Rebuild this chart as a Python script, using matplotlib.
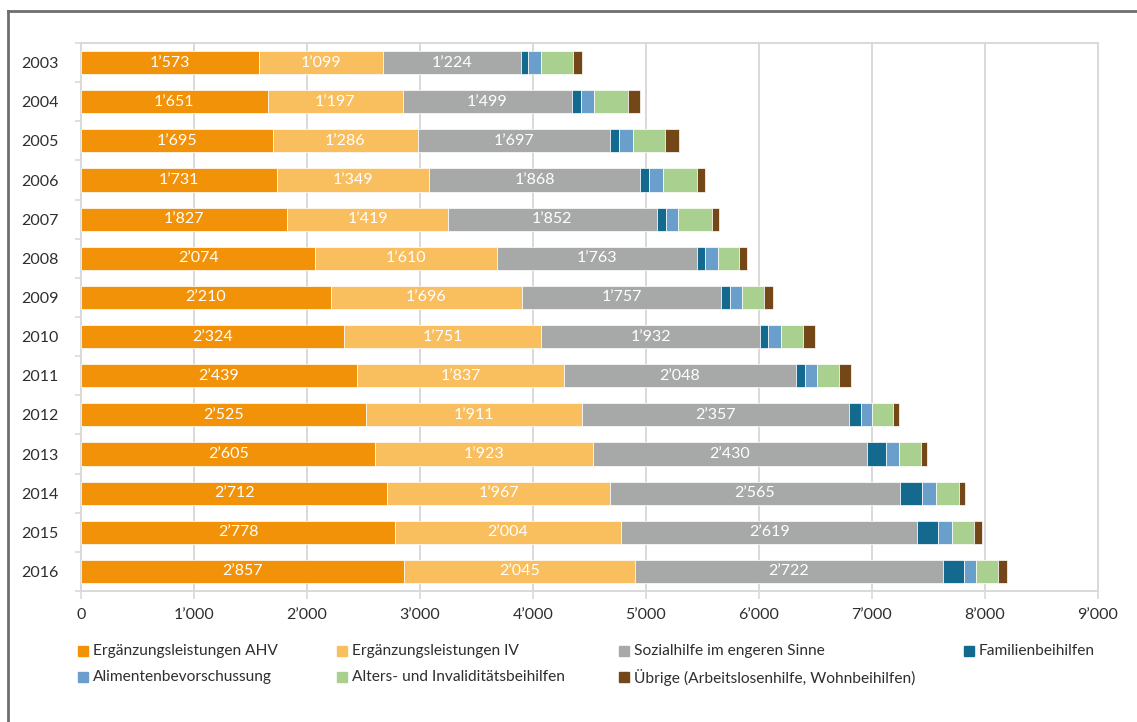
import matplotlib
matplotlib.use("Agg")
import numpy as np
from matplotlib import pyplot as plt
from matplotlib.patches import Rectangle
from matplotlib.lines import Line2D

plt.rcParams['font.family'] = ['Lato', 'DejaVu Sans']

years = ["2003", "2004", "2005", "2006", "2007", "2008", "2009",
         "2010", "2011", "2012", "2013", "2014", "2015", "2016"]

series_names = ["Ergänzungsleistungen AHV", "Ergänzungsleistungen IV",
                "Sozialhilfe im engeren Sinne", "Familienbeihilfen",
                "Alimentenbevorschussung", "Alters- und Invaliditätsbeihilfen",
                "Übrige (Arbeitslosenhilfe, Wohnbeihilfen)"]

el_ahv = [1573, 1651, 1695, 1731, 1827, 2074, 2210, 2324, 2439, 2525, 2605, 2712, 2778, 2857]
el_iv = [1099, 1197, 1286, 1349, 1419, 1610, 1696, 1751, 1837, 1911, 1923, 1967, 2004, 2045]
sozialhilfe = [1224, 1499, 1697, 1868, 1852, 1763, 1757, 1932, 2048, 2357, 2430, 2565, 2619, 2722]
familien = [62, 77, 80, 80, 77, 74, 83, 77, 83, 106, 162, 198, 186, 186]
alimente = [109, 112, 124, 121, 112, 115, 103, 112, 103, 97, 121, 121, 124, 106]
alters_iv = [286, 301, 283, 301, 298, 189, 195, 192, 195, 192, 189, 206, 195, 195]
uebrige = [83, 106, 124, 68, 65, 68, 80, 106, 109, 53, 56, 56, 65, 80]

series = [el_ahv, el_iv, sozialhilfe, familien, alimente, alters_iv, uebrige]
colors = ["#F29208", "#F9BE5E", "#A7A9A8", "#136A8E", "#6A9FCB", "#A9D08F", "#744718"]

W, H = 1137, 722
TXT = "#2E2E2E"
GRID = "#D9D9D9"


def fmt(v):
    return f"{int(v):,}".replace(",", "\u2019")


def fx(px):
    return px / W


def fy(py):
    return 1 - py / H


fig = plt.figure(figsize=(W / 100, H / 100), dpi=100)
ax = fig.add_axes([fx(81), fy(591), fx(1098) - fx(81), fy(43) - fy(591)])

y = np.arange(len(years))
left = np.zeros(len(years))
for k, (vals, col) in enumerate(zip(series, colors)):
    vals = np.array(vals, dtype=float)
    ax.barh(y, vals, left=left, height=0.59, color=col, edgecolor="white",
            linewidth=0.5, zorder=3)
    if k < 3:
        for yi, l, v in zip(y, left, vals):
            ax.text(l + v / 2, yi, fmt(v), ha="center", va="center",
                    color="white", fontsize=11.5, zorder=4)
    left += vals

ax.set_xlim(0, 9000)
ax.set_ylim(len(years) - 0.5, -0.5)
ax.set_xticks(np.arange(0, 9001, 1000))
ax.set_xticklabels([fmt(v) for v in np.arange(0, 9001, 1000)])
ax.set_yticks(y)
ax.set_yticklabels(years)
ax.set_yticks(np.arange(-0.5, len(years), 1), minor=True)
ax.tick_params(axis="y", which="major", length=0, pad=16, labelsize=11.5, labelcolor=TXT)
ax.tick_params(axis="y", which="minor", length=4, color=GRID, width=1.2)
ax.tick_params(axis="x", length=6, color=GRID, width=1.2, pad=6, labelsize=11.5, labelcolor=TXT)
for s in ax.spines.values():
    s.set_color(GRID)
    s.set_linewidth(1.4)
ax.xaxis.grid(True, color=GRID, linewidth=1.4, zorder=0)
ax.set_axisbelow(True)

# legend laid out like the source, two rows
leg_pos = [(78, 651), (337, 651), (619, 651), (964, 651),
           (78, 677), (337, 677), (619, 677)]
for name, col, (px, py) in zip(series_names, colors, leg_pos):
    fig.patches.append(Rectangle((fx(px), fy(py + 5)), fx(10), 10 / H,
                                 transform=fig.transFigure, color=col))
    fig.text(fx(px + 15), fy(py), name, ha="left", va="center",
             fontsize=11.2, color=TXT)

# outer frame (top and left)
fig.add_artist(Line2D([fx(8), 1], [fy(11), fy(11)], color="#6E6E6E", linewidth=2))
fig.add_artist(Line2D([fx(8), fx(8)], [0, fy(11)], color="#6E6E6E", linewidth=2))

fig.savefig("out.png", dpi=100)
